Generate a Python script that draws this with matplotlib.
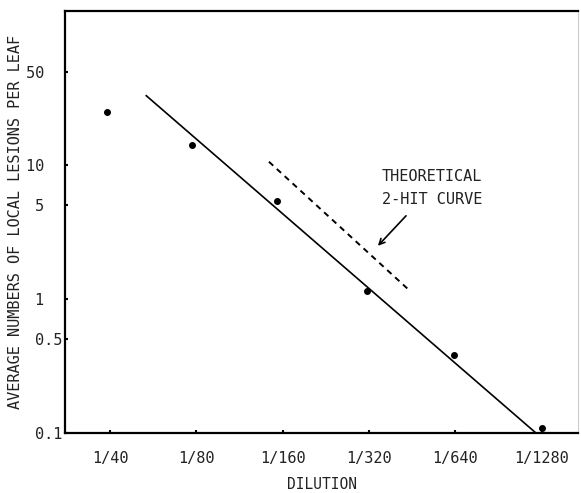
import numpy as np
import matplotlib
matplotlib.use("Agg")
import matplotlib.pyplot as plt

# data
dilutions = ["1/40", "1/80", "1/160", "1/320", "1/640", "1/1280"]
lesions = [25.0, 14.2, 5.4, 1.15, 0.38, 0.109]
point_x = [-0.03, -0.05, -0.07, -0.02, -0.02, 0.0]  # slight hand-plot offsets

fit_x = [0.42, 4.93]
fit_y = [33.0, 0.1]
hit2_x = [1.84, 3.46]
hit2_y = [10.6, 1.17]

y_ticks = [0.1, 0.5, 1, 5, 10, 50]
y_tick_labels = ["0.1", "0.5", "1  ", "5  ", "10  ", "50  "]

plt.rcParams["font.family"] = ["DejaVu Sans Mono", "Liberation Mono"]
plt.rcParams["text.color"] = "#222222"
plt.rcParams["xtick.labelcolor"] = "#222222"
plt.rcParams["ytick.labelcolor"] = "#222222"
plt.rcParams["axes.labelcolor"] = "#222222"

fig = plt.figure(figsize=(5.81, 4.93), dpi=100)
ax = fig.add_axes([0.112, 0.122, 0.883, 0.856])

x = np.arange(len(dilutions)) + np.array(point_x)
ax.plot(x, lesions, "o", color="black", markersize=4)
ax.plot(fit_x, fit_y, "-", color="black", lw=1.2)
ax.plot(hit2_x, hit2_y, "--", color="black", lw=1.4, dashes=(3, 2.5))

ax.set_yscale("log")
ax.set_ylim(0.1, 142)
ax.set_xlim(-0.52, 5.42)

ax.set_xticks(np.arange(len(dilutions)))
ax.set_xticklabels(dilutions, fontsize=11)
ax.set_yticks(y_ticks)
ax.set_yticklabels(y_tick_labels, fontsize=11)
ax.minorticks_off()
ax.tick_params(axis="x", direction="in", length=2, width=1.5, pad=13)
ax.tick_params(axis="y", direction="in", length=2, width=1.5, pad=2)

for side in ["left", "top", "bottom"]:
    ax.spines[side].set_linewidth(1.6)
ax.spines["right"].set_color("#cccccc")
ax.spines["right"].set_linewidth(0.8)

ax.text(3.73, 6.72, "THEORETICAL\n2-HIT CURVE", ha="center", va="center",
        fontsize=11, linespacing=1.7)
ax.annotate("", xy=(3.08, 2.41), xytext=(3.45, 4.33),
            arrowprops=dict(arrowstyle="->", color="black", lw=1.2))

ax.set_xlabel("DILUTION", fontsize=10.5, labelpad=8)
ax.set_ylabel("AVERAGE NUMBERS OF LOCAL LESIONS PER LEAF", fontsize=11,
              labelpad=2)

fig.savefig("out.png", dpi=100)
